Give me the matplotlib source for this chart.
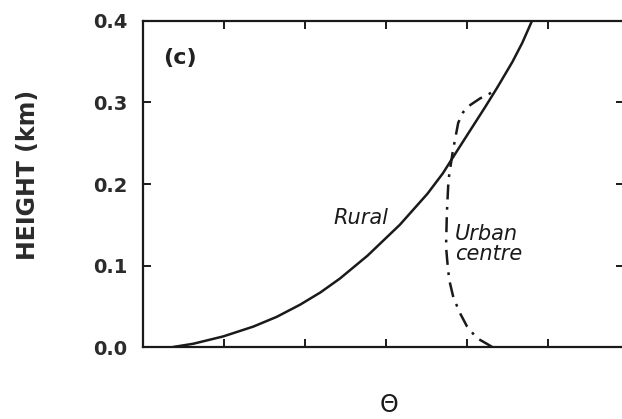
#!/usr/bin/env python3
"""
Potential temperature profiles, rural vs urban centre (panel c)
"""
import matplotlib
matplotlib.use("Agg")
import matplotlib.pyplot as plt

# Rural profile (theta, height km)
rural_theta = [0.37, 0.62, 0.99, 1.36, 1.65, 1.94, 2.19, 2.43, 2.77, 3.17,
               3.51, 3.70, 3.84, 4.02, 4.22, 4.37, 4.56, 4.68, 4.80]
rural_height = [0.0, 0.004, 0.013, 0.025, 0.037, 0.052, 0.067, 0.084, 0.112, 0.150,
                0.188, 0.213, 0.235, 0.263, 0.294, 0.318, 0.350, 0.373, 0.40]

# Urban centre profile
urban_theta = [4.31, 4.26, 4.12, 4.00, 3.91, 3.83, 3.78, 3.76, 3.74, 3.75, 3.77,
               3.82, 3.85, 3.89, 3.95, 4.04, 4.16, 4.28, 4.37]
urban_height = [0.0, 0.003, 0.011, 0.025, 0.042, 0.061, 0.082, 0.100, 0.123, 0.164,
                0.205, 0.238, 0.254, 0.275, 0.288, 0.297, 0.305, 0.311, 0.318]

y_ticks = [0.0, 0.1, 0.2, 0.3, 0.4]
x_ticks = [1, 2, 3, 4, 5]


def main():
    plt.rcParams['font.family'] = ['DejaVu Sans']
    fig = plt.figure(figsize=(6.22, 4.19), dpi=100)
    ax = fig.add_axes([0.2299, 0.1718, 623.5 / 622 - 0.2299, 0.9499 - 0.1718])

    ax.plot(rural_theta, rural_height, color='#1a1a1a', lw=1.8,
            solid_capstyle='butt')
    ax.plot(urban_theta, urban_height, color='#1a1a1a', lw=1.8,
            linestyle=(0, (6, 3, 1.1, 3)))

    ax.set_xlim(0, 5.93)
    ax.set_ylim(0, 0.4)
    ax.set_xticks(x_ticks)
    ax.set_xticklabels([])
    ax.set_yticks(y_ticks)
    ax.set_yticklabels(['%.1f' % v for v in y_ticks])
    ax.tick_params(direction='in', length=5.5, width=1.4, top=True, right=True,
                   pad=11, labelsize=14, colors='#1a1a1a')
    for lab in ax.get_yticklabels():
        lab.set_fontweight('bold')
        lab.set_color('#2b2b2b')
    for sp in ax.spines.values():
        sp.set_linewidth(1.6)
        sp.set_color('#1a1a1a')
    # right frame edge falls just outside the picture
    ax.spines['right'].set_visible(False)

    # annotations
    ax.text(0.46, 0.355, '(c)', fontsize=16, fontweight='bold',
            ha='center', va='center', color='#222222')
    ax.text(2.69, 0.158, 'Rural', fontsize=15, style='italic',
            ha='center', va='center', color='#1a1a1a')
    ax.text(3.85, 0.126, 'Urban\ncentre', fontsize=15, style='italic',
            ha='left', va='center', linespacing=1.0, color='#1a1a1a')

    fig.text(28 / 622, 1 - 175 / 419, 'HEIGHT (km)', rotation=90, fontsize=17,
             fontweight='bold', ha='center', va='center', color='#2b2b2b')
    fig.text(389 / 622, 1 - 405 / 419, 'Θ', fontsize=17,
             ha='center', va='center', color='#1a1a1a')

    fig.savefig('out.png', dpi=100)


if __name__ == "__main__":
    main()
